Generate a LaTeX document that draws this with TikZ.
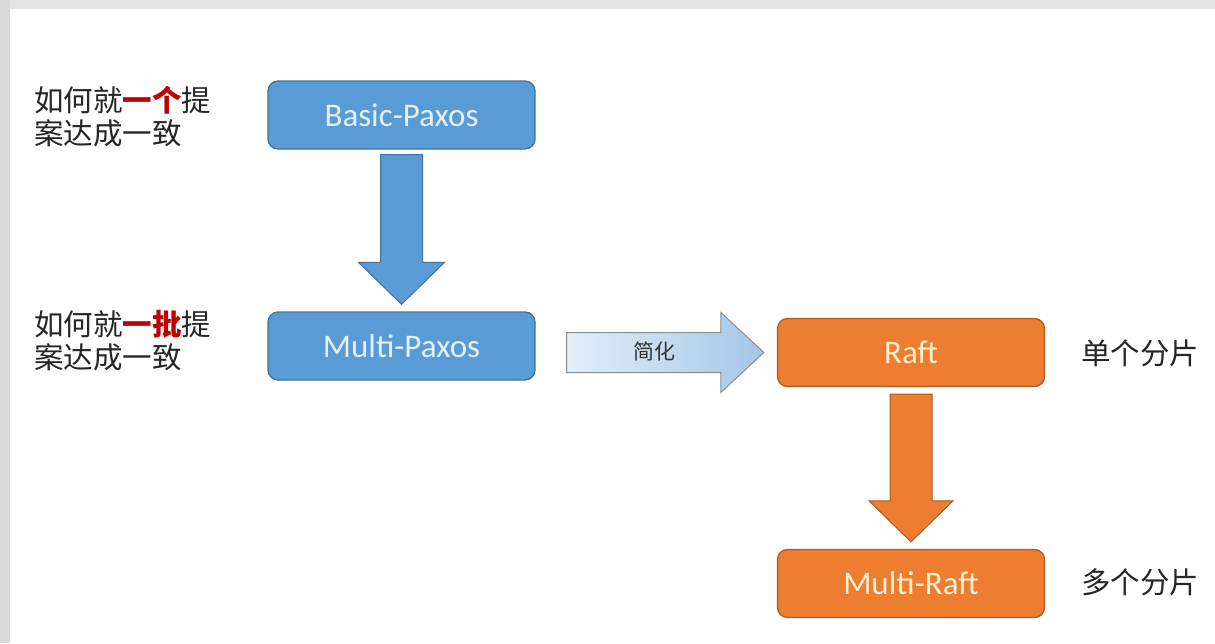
\documentclass[tikz,border=0pt]{standalone}
\usepackage{fontspec}
\setmainfont{Carlito}
\newfontfamily\cjk{Noto Sans CJK SC}
\usetikzlibrary{calc}
\definecolor{pxfill}{HTML}{5B9BD5}
\definecolor{pxline}{HTML}{41719C}
\definecolor{pxtext}{HTML}{E2F1FA}
\definecolor{rffill}{HTML}{ED7D31}
\definecolor{rfline}{HTML}{AE5A21}
\definecolor{rftext}{HTML}{FFF0CC}
\definecolor{hilite}{HTML}{C00000}
\definecolor{bandtop}{HTML}{E4E4E4}
\definecolor{bandleft}{HTML}{D9D9D9}
\definecolor{simpleleft}{HTML}{E4EEF8}
\definecolor{simpleright}{HTML}{A3C6E8}
\definecolor{simpleline}{HTML}{8C8C8C}
\tikzset{
  box/.style={rectangle, rounded corners=10pt, minimum width=267pt, minimum height=68pt,
    line width=1.3pt, inner sep=0pt, font=\fontsize{33}{37}\selectfont},
  paxosbox/.style={box, fill=pxfill, draw=pxline, text=pxtext},
  raftbox/.style={box, fill=rffill, draw=rfline, text=rftext},
  bluearrow/.style={fill=pxfill, draw=pxline, line width=1pt},
  orangearrow/.style={fill=rffill, draw=rfline, line width=1pt},
  note/.style={anchor=west, align=left, inner sep=0pt, text=black!85,
    font=\cjk\fontsize{29.5}{33}\selectfont}
}
\newcommand{\hotword}[1]{\textcolor{hilite}{\bfseries #1}}
\begin{document}
\begin{tikzpicture}[x=1pt, y=-1pt]
  % page and frame bands
  \useasboundingbox (0,0) rectangle (1215,643);
  \fill[white] (0,0) rectangle (1215,643);
  \fill[bandtop] (0,0) rectangle (1215,9);
  \fill[bandleft] (0,0) rectangle (10,643);

  % algorithm boxes
  \node[paxosbox] (bp) at (401.5,115) {Basic-Paxos};
  \node[paxosbox] (mp) at (401.5,346) {Multi-Paxos};
  \node[raftbox]  (rf) at (911,352.5) {Raft};
  \node[raftbox]  (mr) at (911,583.5) {Multi-Raft};

  % side notes
  \node[note] (n1) at (34,117) {如何就\hotword{一个}提\\案达成一致};
  \node[note] (n2) at (34,341) {如何就\hotword{一批}提\\案达成一致};
  \node[note] (n3) at (1081,353) {单个分片};
  \node[note] (n4) at (1081,582) {多个分片};

  % block arrow Basic-Paxos -> Multi-Paxos
  \draw[bluearrow]
    ($(bp.south)+(-21,5)$) -- ($(bp.south)+(21,5)$)
    -- ($(mp.north)+(21,-49)$) -- ($(mp.north)+(43,-49)$)
    -- ($(mp.north)+(0,-7)$)
    -- ($(mp.north)+(-43,-49)$) -- ($(mp.north)+(-21,-49)$) -- cycle;

  % block arrow Raft -> Multi-Raft
  \draw[orangearrow]
    ($(rf.south)+(-21,7)$) -- ($(rf.south)+(21,7)$)
    -- ($(mr.north)+(21,-48)$) -- ($(mr.north)+(42,-48)$)
    -- ($(mr.north)+(0,-7)$)
    -- ($(mr.north)+(-42,-48)$) -- ($(mr.north)+(-21,-48)$) -- cycle;

  % simplification arrow Multi-Paxos -> Raft
  \coordinate (sa) at ($(mp.east |- rf.west)+(31,0)$);
  \coordinate (sb) at ($(rf.west)+(-56,0)$);
  \coordinate (st) at ($(rf.west)+(-13,0)$);
  \shade[left color=simpleleft, right color=simpleright, draw=simpleline, line width=1pt]
    ($(sa)+(0,-20)$) -- ($(sb)+(0,-20)$) -- ($(sb)+(0,-40)$)
    -- (st)
    -- ($(sb)+(0,40)$) -- ($(sb)+(0,20)$) -- ($(sa)+(0,20)$) -- cycle;
  \node[font=\cjk\fontsize{21}{24}\selectfont, text=black!80] (simp) at (654,351) {简化};
\end{tikzpicture}
\end{document}
